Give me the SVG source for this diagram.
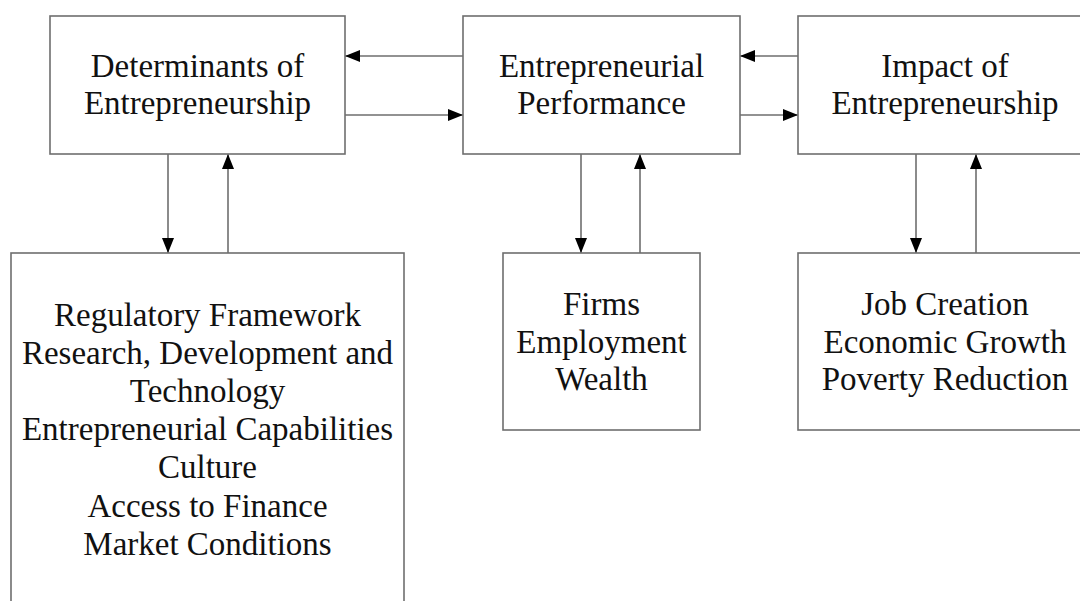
<svg xmlns="http://www.w3.org/2000/svg" width="1080" height="601" viewBox="0 0 1080 601">
  <defs>
    <style>
      .box { fill: #ffffff; stroke: #6e6e6e; stroke-width: 1.6; }
      .link { fill: none; stroke: #6e6e6e; stroke-width: 1.6; marker-end: url(#head); }
      .label { font-family: 'Liberation Serif', 'Times New Roman', Tinos, 'Nimbus Roman', 'DejaVu Serif', 'Noto Serif', serif; font-size: 33px; fill: #111111; text-anchor: middle; }
    </style>
    <marker id="head" markerUnits="userSpaceOnUse" markerWidth="15" markerHeight="12" refX="15" refY="6" orient="auto">
      <path d="M0,0 L15,6 L0,12 Z" fill="#000000"/>
    </marker>
  </defs>
  <rect width="1080" height="601" fill="#ffffff"/>

  <!-- connectors -->
  <g id="connectors">
    <line class="link" x1="463" y1="56" x2="345" y2="56"/>
    <line class="link" x1="345" y1="115" x2="463" y2="115"/>
    <line class="link" x1="798" y1="56" x2="740" y2="56"/>
    <line class="link" x1="740" y1="115" x2="798" y2="115"/>
    <line class="link" x1="168" y1="154" x2="168" y2="253"/>
    <line class="link" x1="228" y1="253" x2="228" y2="154"/>
    <line class="link" x1="581" y1="154" x2="581" y2="253"/>
    <line class="link" x1="640" y1="253" x2="640" y2="154"/>
    <line class="link" x1="916" y1="154" x2="916" y2="253"/>
    <line class="link" x1="976" y1="253" x2="976" y2="154"/>
  </g>

  <!-- top row -->
  <g id="determinants">
    <rect class="box" x="50" y="16" width="295" height="138"/>
    <text class="label" x="197.5" y="77">Determinants of</text>
    <text class="label" x="197.5" y="114">Entrepreneurship</text>
  </g>
  <g id="performance">
    <rect class="box" x="463" y="16" width="277" height="138"/>
    <text class="label" x="601.5" y="77">Entrepreneurial</text>
    <text class="label" x="601.5" y="114">Performance</text>
  </g>
  <g id="impact">
    <rect class="box" x="798" y="16" width="300" height="138"/>
    <text class="label" x="945" y="77">Impact of</text>
    <text class="label" x="945" y="114">Entrepreneurship</text>
  </g>

  <!-- bottom row -->
  <g id="factors">
    <rect class="box" x="11" y="253" width="393" height="370"/>
    <text class="label" x="207.5" y="326">Regulatory Framework</text>
    <text class="label" x="207.5" y="364">Research, Development and</text>
    <text class="label" x="207.5" y="402">Technology</text>
    <text class="label" x="207.5" y="440">Entrepreneurial Capabilities</text>
    <text class="label" x="207.5" y="478">Culture</text>
    <text class="label" x="207.5" y="517">Access to Finance</text>
    <text class="label" x="207.5" y="555">Market Conditions</text>
  </g>
  <g id="outputs">
    <rect class="box" x="503" y="253" width="197" height="177"/>
    <text class="label" x="601.5" y="315">Firms</text>
    <text class="label" x="601.5" y="353">Employment</text>
    <text class="label" x="601.5" y="390">Wealth</text>
  </g>
  <g id="outcomes">
    <rect class="box" x="798" y="253" width="300" height="177"/>
    <text class="label" x="945" y="315">Job Creation</text>
    <text class="label" x="945" y="353">Economic Growth</text>
    <text class="label" x="945" y="390">Poverty Reduction</text>
  </g>
</svg>
